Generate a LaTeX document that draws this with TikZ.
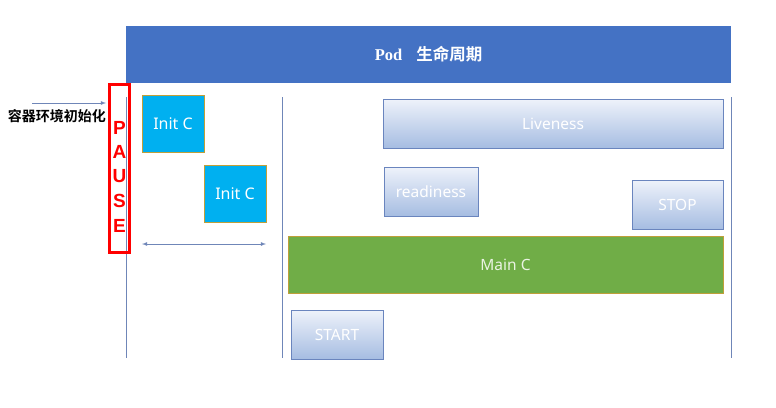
\documentclass[tikz,border=0pt]{standalone}
\usepackage{fontspec}
\setmainfont{Noto Sans}
\newfontfamily\cjk{Noto Sans CJK SC}[BoldFont={* Bold}]
\newfontfamily\titlefont{Liberation Serif}
\newfontfamily\pausefont{Liberation Sans}
\usepackage{tikz}
\definecolor{podblue}{HTML}{4472C4}
\definecolor{initblue}{HTML}{00B0F0}
\definecolor{maingreen}{HTML}{70AD47}
\definecolor{probeedge}{HTML}{6A85BE}
\definecolor{probetop}{HTML}{EEF2FA}
\definecolor{probebot}{HTML}{A6BDE2}
\definecolor{lineblue}{HTML}{6F86B8}
\definecolor{goldedge}{HTML}{BF9F3A}

\begin{document}
\begin{tikzpicture}[x=1pt,y=-1pt,
    probe/.style={draw=probeedge,line width=1pt,top color=probetop,bottom color=probebot,
        text=white,font=\fontsize{15.5}{15.5}\selectfont,inner sep=0pt},
    initbox/.style={draw=goldedge,fill=initblue,text=white,minimum width=62pt,minimum height=57pt,
        font=\fontsize{16}{16}\selectfont,inner sep=0pt},
    lifeline/.style={draw=lineblue,line width=0.8pt}]
\useasboundingbox (0,0) rectangle (776,407);

% header
\node[fill=podblue,minimum width=605pt,minimum height=57pt,inner sep=0pt,text=white] (pod) at (428.5,54.5)
    {\titlefont\bfseries\fontsize{16.5}{16.5}\selectfont Pod\hspace{14pt}\cjk\bfseries 生命周期};

% lifelines
\coordinate (l1) at (126,97);  \coordinate (l1e) at (126,358);
\coordinate (l2) at (282,97);  \coordinate (l2e) at (282,358);
\coordinate (l3) at (731,97);  \coordinate (l3e) at (731,358);
\draw[lifeline] (l1) -- (l1e);
\draw[lifeline] (l2) -- (l2e);
\draw[lifeline] (l3) -- (l3e);

% pause
\node[draw=red,line width=3pt,minimum width=20pt,minimum height=168pt,inner sep=0pt] (pause) at (119.5,168.5) {};
\foreach \ch [count=\i] in {P,A,U,S,E}
    \node[text=red,font=\pausefont\bfseries\fontsize{19}{19}\selectfont,inner sep=0pt] (pause\i) at (119.5,103+24.5*\i) {\ch};

\coordinate (env) at (32,103);
\coordinate (envend) at (106,103);
\draw[-latex,lineblue,line width=0.8pt] (env) -- (envend);
\node[anchor=east,font=\cjk\bfseries\fontsize{14}{14}\selectfont,inner sep=0pt] (envtext) at (106,116) {容器环境初始化};

% init containers
\node[initbox] (init1) at (173,123.5) {Init C};
\node[initbox] (init2) at (235,193.5) {Init C};
\coordinate (d1) at (142,244);
\coordinate (d2) at (266,244);
\draw[latex-latex,lineblue,line width=0.8pt] (d1) -- (d2);

% probes and main
\node[probe,minimum width=340pt,minimum height=49pt] (live) at (553,123.5) {Liveness};
\node[probe,minimum width=94pt,minimum height=49pt] (ready) at (431,191.5) {readiness};
\node[probe,minimum width=91pt,minimum height=49pt] (stop) at (677.5,204.5) {STOP};
\node[draw=goldedge,fill=maingreen,text=white!85!maingreen,minimum width=435pt,minimum height=57pt,
    inner sep=0pt,font=\fontsize{15.5}{15.5}\selectfont] (mainc) at (505.5,264.5) {Main C};
\node[probe,minimum width=92pt,minimum height=49pt] (start) at (337,334.5) {START};
\end{tikzpicture}
\end{document}
